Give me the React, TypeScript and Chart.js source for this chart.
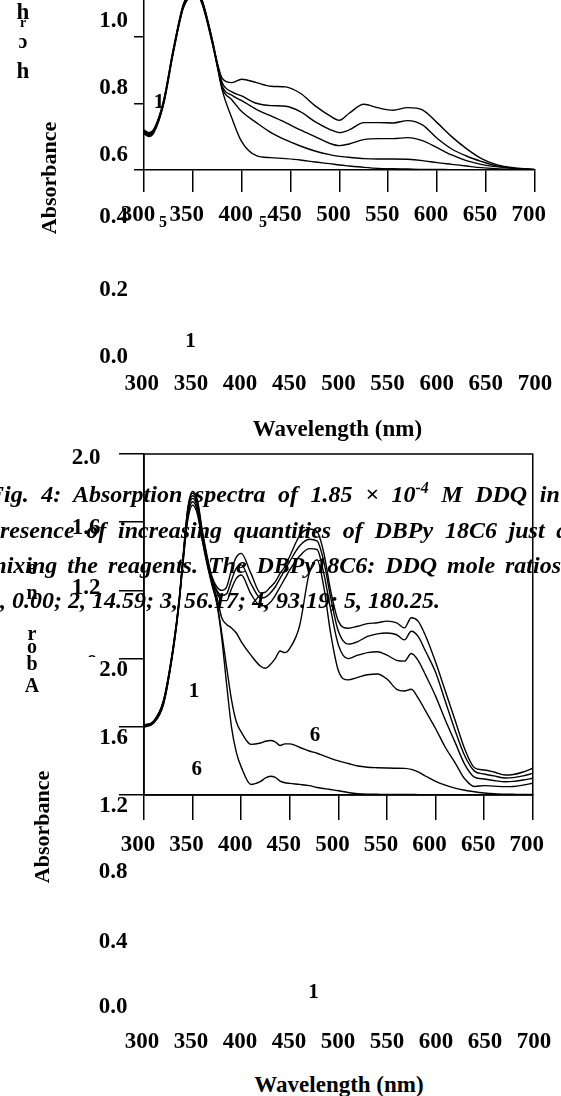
import React, { useEffect, useRef } from "react";
import { Chart, registerables } from "chart.js";

Chart.register(...registerables);

const SERIF = "'Liberation Serif', 'Times New Roman', serif";

// ---------------- top panel data ----------------
const WL_TOP = [300, 305, 310, 320, 330, 340, 345, 350, 355, 360, 370, 375, 380, 390, 400, 415, 430, 445, 460, 475, 490, 500, 510, 525, 540, 555, 570, 585, 600, 615, 630, 645, 660, 680, 700];
const TOP_CURVE_1 = [0.708, 0.7, 0.711, 0.796, 0.951, 1.083, 1.113, 1.128, 1.123, 1.093, 0.978, 0.91, 0.84, 0.755, 0.685, 0.643, 0.637, 0.634, 0.63, 0.624, 0.619, 0.615, 0.612, 0.608, 0.605, 0.604, 0.603, 0.602, 0.602, 0.601, 0.601, 0.6, 0.6, 0.6, 0.6];
const TOP_CURVE_2 = [0.711, 0.703, 0.714, 0.799, 0.954, 1.086, 1.116, 1.131, 1.126, 1.096, 0.981, 0.913, 0.846, 0.81, 0.775, 0.742, 0.712, 0.69, 0.672, 0.657, 0.646, 0.641, 0.638, 0.634, 0.633, 0.633, 0.632, 0.628, 0.622, 0.617, 0.612, 0.607, 0.604, 0.602, 0.601];
const TOP_CURVE_3 = [0.714, 0.706, 0.717, 0.802, 0.957, 1.089, 1.119, 1.134, 1.129, 1.099, 0.984, 0.916, 0.852, 0.824, 0.808, 0.782, 0.762, 0.742, 0.72, 0.7, 0.68, 0.673, 0.678, 0.691, 0.694, 0.694, 0.697, 0.688, 0.667, 0.645, 0.628, 0.617, 0.61, 0.604, 0.601];
const TOP_CURVE_4 = [0.717, 0.709, 0.72, 0.805, 0.96, 1.092, 1.122, 1.137, 1.132, 1.102, 0.987, 0.919, 0.862, 0.834, 0.822, 0.8, 0.793, 0.791, 0.775, 0.745, 0.722, 0.712, 0.72, 0.742, 0.742, 0.741, 0.748, 0.735, 0.695, 0.663, 0.642, 0.626, 0.613, 0.605, 0.601];
const TOP_CURVE_5 = [0.72, 0.712, 0.722, 0.808, 0.963, 1.095, 1.125, 1.14, 1.135, 1.105, 0.99, 0.922, 0.875, 0.862, 0.872, 0.862, 0.851, 0.849, 0.83, 0.793, 0.763, 0.749, 0.77, 0.797, 0.786, 0.779, 0.787, 0.78, 0.742, 0.7, 0.664, 0.635, 0.617, 0.606, 0.602];

// ---------------- bottom panel data ----------------
const WL_BOT = [300, 310, 320, 330, 336, 340, 345, 350, 355, 360, 365, 370, 375, 380, 385, 390, 395, 400, 410, 420, 425, 430, 435, 440, 445, 450, 460, 470, 478, 485, 492, 500, 510, 520, 530, 540, 550, 560, 568, 575, 582, 590, 600, 610, 620, 630, 640, 650, 660, 672, 680, 690, 700];
const BOT_CURVE_1 = [1.598, 1.622, 1.73, 2.045, 2.315, 2.55, 2.81, 2.9, 2.845, 2.69, 2.55, 2.43, 2.32, 2.12, 1.85, 1.6, 1.45, 1.365, 1.262, 1.28, 1.3, 1.31, 1.303, 1.282, 1.272, 1.268, 1.262, 1.255, 1.244, 1.238, 1.232, 1.225, 1.215, 1.208, 1.205, 1.204, 1.203, 1.203, 1.203, 1.203, 1.202, 1.202, 1.202, 1.202, 1.202, 1.202, 1.202, 1.202, 1.202, 1.202, 1.202, 1.202, 1.202];
const BOT_CURVE_2 = [1.6, 1.625, 1.735, 2.05, 2.32, 2.56, 2.83, 2.92, 2.865, 2.7, 2.56, 2.44, 2.33, 2.15, 1.95, 1.76, 1.63, 1.57, 1.497, 1.505, 1.515, 1.52, 1.512, 1.49, 1.5, 1.5, 1.48, 1.458, 1.445, 1.43, 1.415, 1.4, 1.385, 1.37, 1.363, 1.36, 1.358, 1.357, 1.356, 1.35, 1.335, 1.31, 1.28, 1.258, 1.24, 1.228, 1.219, 1.212, 1.207, 1.205, 1.204, 1.203, 1.203];
const BOT_CURVE_3 = [1.603, 1.628, 1.74, 2.055, 2.325, 2.57, 2.85, 2.94, 2.885, 2.72, 2.57, 2.45, 2.36, 2.24, 2.2, 2.18, 2.15, 2.1, 2.02, 1.955, 1.943, 1.965, 2.0, 2.045, 2.035, 2.06, 2.19, 2.5, 2.58, 2.42, 2.15, 1.93, 1.875, 1.89, 1.905, 1.91, 1.88, 1.82, 1.81, 1.82, 1.77, 1.69, 1.59, 1.48, 1.39, 1.295, 1.25, 1.255, 1.252, 1.249, 1.25, 1.258, 1.269];
const BOT_CURVE_4 = [1.605, 1.63, 1.745, 2.06, 2.33, 2.575, 2.86, 2.955, 2.9, 2.73, 2.58, 2.46, 2.39, 2.34, 2.34, 2.41, 2.47, 2.49, 2.38, 2.31, 2.31, 2.33, 2.37, 2.42, 2.47, 2.52, 2.6, 2.645, 2.64, 2.5, 2.29, 2.08, 2.0, 2.02, 2.035, 2.04, 2.02, 1.99, 1.985, 2.03, 1.99, 1.9, 1.78, 1.64, 1.51, 1.38, 1.305, 1.294, 1.285, 1.278, 1.28, 1.288, 1.298];
const BOT_CURVE_5 = [1.607, 1.632, 1.75, 2.065, 2.335, 2.58, 2.87, 2.97, 2.915, 2.74, 2.59, 2.47, 2.4, 2.37, 2.38, 2.46, 2.53, 2.55, 2.44, 2.355, 2.36, 2.385, 2.42, 2.47, 2.52, 2.57, 2.66, 2.7, 2.69, 2.57, 2.36, 2.16, 2.085, 2.1, 2.13, 2.145, 2.15, 2.14, 2.11, 2.16, 2.13, 2.04, 1.92, 1.75, 1.58, 1.43, 1.34, 1.323, 1.312, 1.3, 1.302, 1.312, 1.327];
const BOT_CURVE_6 = [1.61, 1.635, 1.755, 2.07, 2.34, 2.59, 2.88, 2.98, 2.93, 2.75, 2.6, 2.48, 2.42, 2.4, 2.42, 2.52, 2.595, 2.617, 2.5, 2.385, 2.39, 2.42, 2.45, 2.5, 2.54, 2.6, 2.72, 2.76, 2.745, 2.62, 2.4, 2.22, 2.178, 2.19, 2.205, 2.21, 2.22, 2.21, 2.18, 2.24, 2.22, 2.13, 1.98, 1.81, 1.64, 1.47, 1.36, 1.347, 1.335, 1.317, 1.32, 1.335, 1.357];

// ---------------- stray (duplicated) labels of the figure ----------------
const GHOST_X_LABELS = ["300", "350", "400", "450", "500", "550", "600", "650", "700"];
const TOP_GHOST_Y = ["0.4", "0.2", "0.0"];
const BOT_OUTER_Y = ["2.0", "1.6", "1.2"];
const BOT_LOWER_Y = ["0.8", "0.4", "0.0"];
const X_TITLE = "Wavelength (nm)";
const Y_TITLE = "Absorbance";
const STACKED_LETTERS = ["A", "b", "o", "r", "n", "e"];
const CAPTION = [
  ["Fig. 4: Absorption spectra of 1.85 × 10", "-4", " M DDQ in the"],
  ["presence of increasing quantities of DBPy 18C6 just after"],
  ["mixing the reagents. The DBPy18C6: DDQ mole ratios are"],
  ["1, 0.00; 2, 14.59; 3, 56.17; 4, 93.19; 5, 180.25."],
];

// layout (page pixels)
const TOP_GHOST_Y_POS = [215, 288, 355];
const BOT_OUTER_Y_POS = [456, 526, 586];
const BOT_LOWER_Y_POS = [870, 940, 1005];
const STACKED_POS = [685, 663, 646, 633, 592, 567];
const CAPTION_TOPS = [480, 515.5, 551, 586];

const boxPlugin = {
  id: "boxBorder",
  afterDraw(chart: any) {
    const { ctx, chartArea } = chart;
    ctx.save();
    ctx.strokeStyle = "#000";
    ctx.lineWidth = 1.5;
    ctx.strokeRect(chartArea.left, chartArea.top, chartArea.right - chartArea.left, chartArea.bottom - chartArea.top);
    ctx.restore();
  },
};

function buildChart(canvas: HTMLCanvasElement, wl: number[], series: number[][], o: any, plugins: any[]) {
  const font = { family: SERIF, size: 23, weight: "bold" as const };
  return new Chart(canvas, {
    type: "line",
    data: {
      datasets: series.map((s) => ({
        data: wl.map((w, i) => ({ x: w, y: s[i] })),
        borderColor: "#000",
        borderWidth: 1.4,
        pointRadius: 0,
        fill: false,
        cubicInterpolationMode: "monotone" as const,
      })),
    },
    options: {
      animation: false,
      responsive: false,
      events: [],
      layout: { padding: { left: 0, right: 21, top: o.padTop, bottom: 0 } },
      plugins: { legend: { display: false }, tooltip: { enabled: false }, title: { display: false } },
      scales: {
        x: {
          type: "linear",
          min: 300,
          max: 700,
          afterFit: (s: any) => {
            s.height = o.xHeight;
          },
          ticks: { stepSize: 50, autoSkip: false, maxRotation: 0, minRotation: 0, color: "#000", font, padding: o.xPad, labelOffset: -6 },
          grid: { drawOnChartArea: false, drawTicks: true, tickLength: o.xTickLen, color: "#000", lineWidth: 1.5 },
          border: { display: true, color: "#000", width: 1.5 },
        },
        y: {
          type: "linear",
          min: o.ymin,
          max: o.ymax,
          afterFit: (s: any) => {
            s.width = 144;
          },
          ticks: { stepSize: o.ystep, color: "#000", font, padding: o.yPad, labelOffset: o.yLabelOffset, callback: o.yCallback },
          grid: { drawOnChartArea: false, drawTicks: true, tickLength: o.yTickLen, color: "#000", lineWidth: 1.5 },
          border: { display: true, color: "#000", width: 1.5 },
        },
      },
    } as any,
    plugins,
  });
}

function Txt(props: { x: number; y: number; align?: string; size?: number; italic?: boolean; rotate?: number; children: any }) {
  const { x, y, align = "center", size = 23, italic = false, rotate = 0, children } = props;
  const tx = align === "center" ? "-50%" : align === "right" ? "-100%" : "0";
  return (
    <div
      style={{
        position: "absolute",
        left: x,
        top: y,
        transform: `translate(${tx}, -50%) rotate(${rotate}deg)`,
        fontFamily: SERIF,
        fontWeight: "bold",
        fontStyle: italic ? "italic" : "normal",
        fontSize: size,
        lineHeight: `${size}px`,
        whiteSpace: "nowrap",
        color: "#000",
      }}
    >
      {children}
    </div>
  );
}

export default function App() {
  const topRef = useRef<HTMLCanvasElement>(null);
  const botRef = useRef<HTMLCanvasElement>(null);

  useEffect(() => {
    const top = buildChart(
      topRef.current!,
      WL_TOP,
      [TOP_CURVE_1, TOP_CURVE_2, TOP_CURVE_3, TOP_CURVE_4, TOP_CURVE_5],
      {
        padTop: 19,
        xHeight: 80,
        xPad: 9,
        xTickLen: 22,
        ymin: 0.6,
        ymax: 1.2,
        ystep: 0.2,
        yPad: 6,
        yTickLen: 10,
        yLabelOffset: -15,
        yCallback: (v: any) => Number(v).toFixed(1),
      },
      []
    );
    const bot = buildChart(
      botRef.current!,
      WL_BOT,
      [BOT_CURVE_1, BOT_CURVE_2, BOT_CURVE_3, BOT_CURVE_4, BOT_CURVE_5, BOT_CURVE_6],
      {
        padTop: 34,
        xHeight: 75,
        xPad: 11,
        xTickLen: 25,
        ymin: 1.2,
        ymax: 3.2,
        ystep: 0.4,
        yPad: -9,
        yTickLen: 25,
        yLabelOffset: 11,
        yCallback: (v: any) => (Number(v) < 2.05 ? Number(v).toFixed(1) : ""),
      },
      [boxPlugin]
    );
    return () => {
      top.destroy();
      bot.destroy();
    };
  }, []);

  const ghostRow = (y: number, x0: number, dx: number) =>
    GHOST_X_LABELS.map((t, i) => (
      <Txt key={`g${y}-${i}`} x={x0 + dx * i} y={y}>
        {t}
      </Txt>
    ));

  return (
    <div style={{ position: "absolute", left: 0, top: 0, width: 561, height: 1096, overflow: "hidden", background: "#fff" }}>
      <canvas ref={topRef} width={561} height={300} style={{ position: "absolute", left: 0, top: -50, width: 561, height: 300 }} />
      <canvas ref={botRef} width={561} height={450} style={{ position: "absolute", left: 0, top: 420, width: 561, height: 450 }} />

      {/* top-left stray glyphs */}
      <Txt x={23} y={11}>h</Txt>
      <Txt x={23} y={23} size={14}>r</Txt>
      <Txt x={23} y={41} size={20}>ɔ</Txt>
      <Txt x={23} y={70}>h</Txt>

      {/* top panel stray labels */}
      {TOP_GHOST_Y.map((t, i) => (
        <Txt key={`ty${i}`} x={128} y={TOP_GHOST_Y_POS[i]} align="right">
          {t}
        </Txt>
      ))}
      <Txt x={163} y={222} size={16}>5</Txt>
      <Txt x={263} y={222} size={16}>5</Txt>
      <Txt x={159} y={101} size={21}>1</Txt>
      <Txt x={190.5} y={340} size={21}>1</Txt>
      {ghostRow(382, 141.8, 49.15)}
      <Txt x={337.5} y={428}>{X_TITLE}</Txt>
      <Txt x={49} y={177.5} size={22} rotate={-90}>{Y_TITLE}</Txt>

      {/* bottom panel stray labels */}
      {BOT_OUTER_Y.map((t, i) => (
        <Txt key={`by${i}`} x={100.5} y={BOT_OUTER_Y_POS[i]} align="right">
          {t}
        </Txt>
      ))}
      <div style={{ position: "absolute", left: 60, top: 648, width: 45, height: 9, overflow: "hidden" }}>
        <Txt x={40.5} y={14}>0.8</Txt>
      </div>
      {BOT_LOWER_Y.map((t, i) => (
        <Txt key={`bl${i}`} x={127.5} y={BOT_LOWER_Y_POS[i]} align="right">
          {t}
        </Txt>
      ))}
      {STACKED_LETTERS.map((c, i) => (
        <Txt key={`st${i}`} x={32} y={STACKED_POS[i]} size={20}>
          {c}
        </Txt>
      ))}
      <Txt x={194} y={690} size={21}>1</Txt>
      <Txt x={196.7} y={768} size={21}>6</Txt>
      <Txt x={315} y={734} size={21}>6</Txt>
      <Txt x={313.5} y={991} size={21}>1</Txt>
      {ghostRow(1040, 142, 49.0)}
      <Txt x={339} y={1084}>{X_TITLE}</Txt>
      <Txt x={42} y={827} size={22} rotate={-90}>{Y_TITLE}</Txt>

      {/* caption */}
      {CAPTION.map((parts, i) => (
        <div
          key={`cap${i}`}
          style={{
            position: "absolute",
            left: -12,
            top: CAPTION_TOPS[i],
            width: 615,
            height: 28,
            lineHeight: "28px",
            fontFamily: SERIF,
            fontWeight: "bold",
            fontStyle: "italic",
            fontSize: 24,
            whiteSpace: "nowrap",
            textAlign: "left",
            textAlignLast: i < 3 ? "justify" : "left",
            color: "#000",
          } as any}
        >
          {parts[0]}
          {parts.length > 1 ? (
            <span style={{ fontSize: 16, position: "relative", top: -9, lineHeight: 0 }}>{parts[1]}</span>
          ) : null}
          {parts.length > 2 ? parts[2] : null}
        </div>
      ))}
    </div>
  );
}
